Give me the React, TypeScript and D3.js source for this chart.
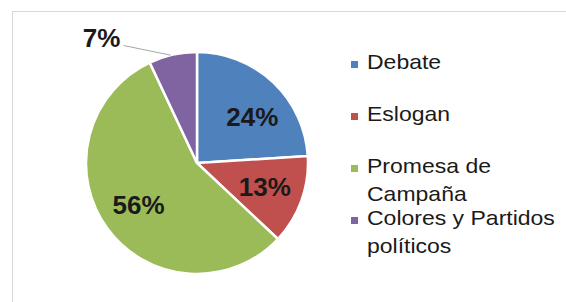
import * as d3 from "d3";
import React from "react";

const categories = ["Debate", "Eslogan", "Promesa de Campaña", "Colores y Partidos políticos"];
const values = [24, 13, 56, 7];
const legendLines = [["Debate"], ["Eslogan"], ["Promesa de", "Campaña"], ["Colores y Partidos", "políticos"]];
const colors = ["#4F81BD", "#C0504D", "#9BBB59", "#8064A2"];

const W = 566;
const H = 302;
const FONT = "'Liberation Sans', Arial, sans-serif";

export default function App() {
  const cx = 197;
  const cy = 163;
  const radius = 111;

  const pie = d3.pie<number>().sort(null).value(d => d);
  const arcs = pie(values);
  const arc = d3.arc<d3.PieArcDatum<number>>().innerRadius(0).outerRadius(radius);
  const pct = d3.format(".0%");

  const polar = (a: number, r: number) => [Math.sin(a) * r, -Math.cos(a) * r];

  // legend layout
  const legendX = 351;
  const itemGap = 52;
  const lineH = 28;

  return (
    <svg width={W} height={H} style={{ position: "absolute", left: 0, top: 0 }}>
      <rect x={12.5} y={11.5} width={W} height={H} fill="#fff" stroke="#d9d9d9" />
      <g transform={`translate(${cx},${cy})`}>
        {arcs.map((a, i) => (
          <path key={categories[i]} d={arc(a) || ""} fill={colors[i]} stroke="#fff" strokeWidth={2.5} />
        ))}
        {arcs.map((a, i) => {
          const mid = (a.startAngle + a.endAngle) / 2;
          if (a.value < 10) {
            // small slice: label moved outside with a leader line
            const [lx, ly] = polar(mid - 0.43, radius * 1.42);
            const [ex, ey] = polar(mid - 0.02, radius);
            return (
              <g key={"l" + i}>
                <path d={`M${lx + 22},${ly + 8}L${ex},${ey}`} stroke="#a6a6a6" strokeWidth={1} fill="none" />
                <text x={lx} y={ly} textAnchor="middle" dominantBaseline="central"
                  fontFamily={FONT} fontWeight="bold" fontSize={26} fill="#1a1a1a">
                  {pct(a.value / 100)}
                </text>
              </g>
            );
          }
          const [px, py] = polar(mid + (i === 0 ? 0.12 : 0), radius * 0.65);
          return (
            <text key={"l" + i} x={px} y={py} textAnchor="middle" dominantBaseline="central"
              fontFamily={FONT} fontWeight="bold" fontSize={26} fill="#1a1a1a">
              {pct(a.value / 100)}
            </text>
          );
        })}
      </g>
      <g transform={`translate(${legendX},69)`}>
        {legendLines.map((lines, i) => (
          <g key={categories[i]} transform={`translate(0,${i * itemGap})`}>
            <rect x={0} y={-8} width={7} height={7} fill={colors[i]} />
            <g transform="translate(16,0) scale(1.15,1)">
              <text fontFamily={FONT} fontSize={20} fill="#1a1a1a">
                {lines.map((t, j) => (
                  <tspan key={j} x={0} y={j * lineH}>{t}</tspan>
                ))}
              </text>
            </g>
          </g>
        ))}
      </g>
    </svg>
  );
}
